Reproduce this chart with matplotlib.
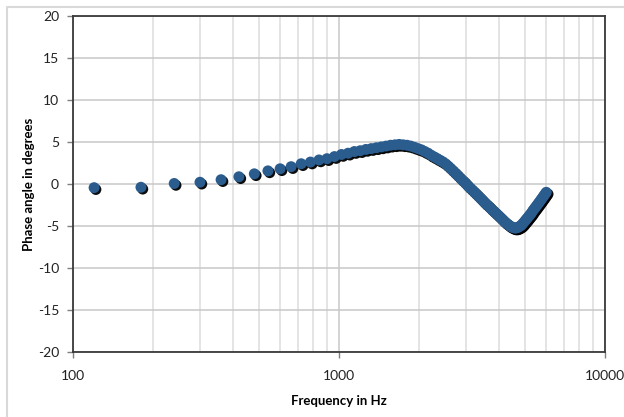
import matplotlib.pyplot as plt
import matplotlib.patheffects as pe
from matplotlib.lines import Line2D
from matplotlib.ticker import LogLocator, NullFormatter, FixedLocator

plt.rcParams['font.family'] = ['Lato', 'DejaVu Sans']
plt.rcParams['axes.unicode_minus'] = False

# Measured frequencies (Hz)
freq = [120, 180, 240, 300, 360, 420, 480, 540, 600, 660,
        720, 780, 840, 900, 960, 1020, 1080, 1140, 1200, 1260,
        1320, 1380, 1440, 1500, 1560, 1620, 1680, 1740, 1800, 1860,
        1920, 1980, 2040, 2100, 2160, 2220, 2280, 2340, 2400, 2460,
        2520, 2580, 2640, 2700, 2760, 2820, 2880, 2940, 3000, 3060,
        3120, 3180, 3240, 3300, 3360, 3420, 3480, 3540, 3600, 3660,
        3720, 3780, 3840, 3900, 3960, 4020, 4080, 4140, 4200, 4260,
        4320, 4380, 4440, 4500, 4560, 4620, 4680, 4740, 4800, 4860,
        4920, 4980, 5040, 5100, 5160, 5220, 5280, 5340, 5400, 5460,
        5520, 5580, 5640, 5700, 5760, 5820, 5880, 5940, 6000]

# Phase angle (degrees)
phase = [-0.45, -0.4, 0.05, 0.2, 0.5, 0.85, 1.2, 1.55, 1.8, 2.05,
         2.4, 2.6, 2.85, 3.0, 3.25, 3.5, 3.65, 3.85, 3.95, 4.1,
         4.2, 4.3, 4.4, 4.5, 4.6, 4.65, 4.7, 4.65, 4.6, 4.5,
         4.35, 4.2, 4.05, 3.85, 3.65, 3.4, 3.2, 3.0, 2.8, 2.6,
         2.35, 2.05, 1.75, 1.45, 1.15, 0.85, 0.55, 0.3, 0.0, -0.3,
         -0.55, -0.8, -1.05, -1.3, -1.55, -1.8, -2.05, -2.3, -2.5, -2.7,
         -2.95, -3.15, -3.35, -3.55, -3.75, -3.95, -4.15, -4.35, -4.55, -4.7,
         -4.85, -5.0, -5.1, -5.2, -5.25, -5.25, -5.2, -5.1, -5.0, -4.85,
         -4.65, -4.45, -4.25, -4.05, -3.85, -3.65, -3.45, -3.2, -3.0, -2.8,
         -2.6, -2.4, -2.2, -2.0, -1.8, -1.6, -1.4, -1.2, -1.0]

y_ticks = [-20, -15, -10, -5, 0, 5, 10, 15, 20]
x_ticks = [100, 1000, 10000]

fig = plt.figure(figsize=(6.24, 4.17), dpi=100)
ax = fig.add_axes([0.117, 0.156, 0.853, 0.806])

ax.scatter(freq, phase, s=62, color='#2b5c8e', zorder=3, linewidths=0,
           path_effects=[pe.SimplePatchShadow(offset=(1.3, -1.3), shadow_rgbFace='black', alpha=0.95),
                         pe.Normal()])

ax.set_xscale('log')
ax.set_xlim(100, 10000)
ax.set_ylim(-20, 20)
ax.xaxis.set_major_locator(FixedLocator(x_ticks))
ax.xaxis.set_minor_locator(LogLocator(base=10, subs=range(2, 10)))
ax.xaxis.set_minor_formatter(NullFormatter())
ax.set_xticks(x_ticks)
ax.set_xticklabels([str(t) for t in x_ticks])
ax.set_yticks(y_ticks)

ax.grid(True, which='major', color='#c8c8c8', lw=1.1)
ax.grid(True, which='minor', axis='x', color='#dcdcdc', lw=1.1)
ax.set_axisbelow(True)

for s in ax.spines.values():
    s.set_color('#3a3a3a')
    s.set_linewidth(1.3)

ax.tick_params(axis='both', which='major', direction='out', length=4, width=1,
               color='#7f7f7f', labelsize=10, labelcolor='#222222')
ax.tick_params(axis='x', which='major', pad=9)
ax.tick_params(axis='y', which='major', pad=6)
ax.tick_params(axis='x', which='minor', length=0)

ax.set_xlabel('Frequency in Hz', fontsize=9.5, fontweight='bold', labelpad=9)
ax.set_ylabel('Phase angle in degrees', fontsize=9.5, fontweight='bold', labelpad=2)

# Light outer frame of the chart area
fx = 7 / 624
fy = 1 - 7 / 417
fig.add_artist(Line2D([fx, fx, 1], [0, fy, fy], transform=fig.transFigure,
                      color='#d9d9d9', lw=1.5))

fig.savefig('out.png', dpi=100)
